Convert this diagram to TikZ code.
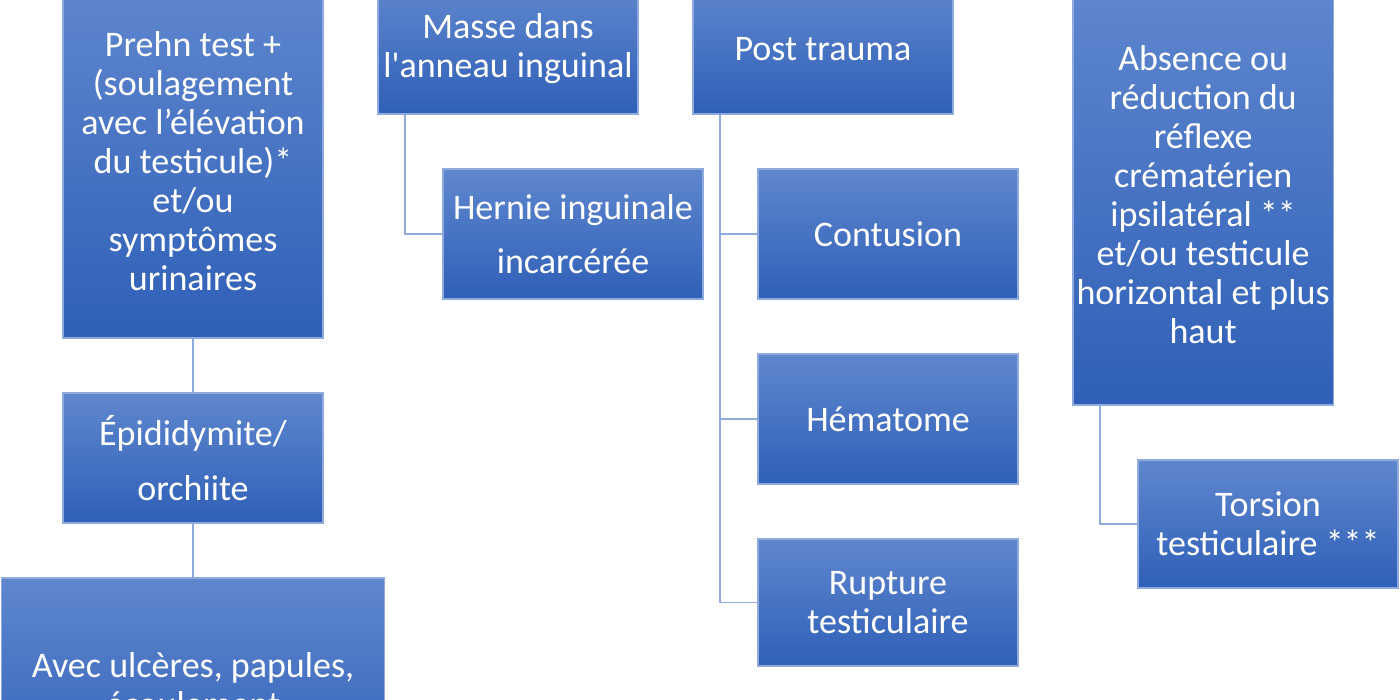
\documentclass[tikz,border=0pt]{standalone}
\usepackage{fontspec}
\setmainfont{Carlito}
\usetikzlibrary{positioning}
\usepackage{xcolor}
\definecolor{btop}  {HTML}{5F87CE}
\definecolor{bbot}  {HTML}{2F5FB7}
\definecolor{bline} {HTML}{8FAADC}
\tikzset{
  box/.style   = {draw=bline, line width=0.6pt, top color=btop, bottom color=bbot,
                  text=white, align=center, inner sep=2pt, outer sep=0pt,
                  minimum width=5.2cm, minimum height=2.6cm,
                  font=\fontsize{20.5}{22.2}\selectfont},
  loose/.style = {box, font=\fontsize{20.5}{31}\selectfont},
  tall/.style  = {box, anchor=north west},
  conn/.style  = {draw=bline, line width=1.1pt},
}

\begin{document}
\begin{tikzpicture}[node distance=1.1cm and 1.1cm]

  \useasboundingbox (0,-14) rectangle (28,0);
  \clip (0,-14) rectangle (28,0);

  % --- top row ---
  \node[tall, minimum height=7.08cm] at (1.26,0.32) (prehn)
        {Prehn test +\\(soulagement\\avec l’élévation\\du testicule)*\\et/ou\\symptômes\\urinaires};
  \node[tall, right=1.1cm of prehn.north east, anchor=north west] (masse)
        {Masse dans\\l\textquotesingle anneau inguinal};
  \node[tall, right=1.1cm of masse.north east, anchor=north west] (post)
        {Post trauma};
  \node[tall, minimum height=8.42cm, right=1.1cm of post.north east, anchor=north west,
        xshift=1.3cm] (absence)
        {Absence ou\\réduction du\\réflexe\\crématérien\\ipsilatéral **\\et/ou testicule\\horizontal et plus\\haut};

  % --- left column ---
  \node[loose, below=of prehn] (epid) {Épididymite/\\orchiite};
  \node[box, below=of epid, minimum width=7.66cm, minimum height=4.28cm] (avec)
        {Avec ulcères, papules,\\écoulement};

  % --- second column ---
  \node[loose, below=1.1cm of masse.south west, anchor=north west, xshift=1.3cm] (hernie)
        {Hernie inguinale\\incarcérée};

  % --- trauma column ---
  \node[box, below=1.1cm of post.south west, anchor=north west, xshift=1.3cm] (contusion)
        {Contusion};
  \node[box, below=of contusion] (hematome) {Hématome};
  \node[box, below=of hematome, minimum height=2.54cm] (rupture)
        {Rupture\\testiculaire};

  % --- right column ---
  \node[box, below=1.1cm of absence.south west, anchor=north west, xshift=1.3cm,
        minimum height=2.56cm] (torsion)
        {Torsion\\testiculaire ***};

  % --- connectors ---
  \draw[conn] (prehn) -- (epid);
  \draw[conn] (epid) -- (avec);
  \draw[conn] ([xshift=0.54cm]masse.south west) |- (hernie.west);
  \draw[conn] ([xshift=0.54cm]post.south west) |- (contusion.west);
  \draw[conn] ([xshift=0.54cm]post.south west) |- (hematome.west);
  \draw[conn] ([xshift=0.54cm]post.south west) |- (rupture.west);
  \draw[conn] ([xshift=0.54cm]absence.south west) |- (torsion.west);

\end{tikzpicture}
\end{document}
